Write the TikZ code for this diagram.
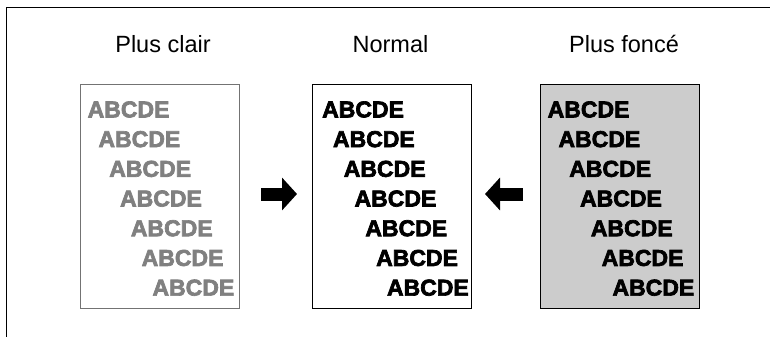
\documentclass[tikz,border=0pt]{standalone}
\usepackage{fontspec}
\setmainfont{Liberation Sans}
\newfontfamily\heavyfont{Liberation Sans}[BoldFeatures={FakeBold=3}]
\usetikzlibrary{arrows.meta,calc}
\tikzset{page/.style={draw, line width=1pt, minimum width=159, minimum height=224, inner sep=0pt},
         row/.style={anchor=west, inner sep=0pt, font=\heavyfont\bfseries\fontsize{23}{23}\selectfont},
         title/.style={anchor=base, inner sep=0pt, font=\fontsize{23.5}{24}\selectfont},
         push/.style={line width=13pt, -{Triangle[length=15pt, width=32pt]}}}

\begin{document}
\begin{tikzpicture}[x=1pt, y=-1pt]
  \useasboundingbox (0,0) rectangle (770,337);

  % ---------- frame corner ----------
  \draw[line width=1pt] (770,8) -- (6,8) -- (6,337);

  % ---------- three sheets ----------
  \node[page, draw=black!55] (clair) at (159.5,196.5) {};
  \node[page] (normal) at (392.0,196.5) {};
  \node[page, fill=black!20] (fonce) at (619.5,196.5) {};

  \node[title] (tclair)  at (163.0,52.5) {Plus clair};
  \node[title] (tnormal) at (390.5,52.5) {Normal};
  \node[title] (tfonce)  at (624.0,52.5) {Plus foncé};

  % ---------- ABCDE rows, one step right per line ----------
  \foreach \i in {0,...,6}{
    \node[row, text=black!50] (c\i) at ($(clair.west)+(8+10.8*\i,-87+29.7*\i)$) {ABCDE};
    \node[row] (n\i) at ($(normal.west)+(10+10.8*\i,-87+29.7*\i)$) {ABCDE};
    \node[row] (f\i) at ($(fonce.west)+(8+10.8*\i,-87+29.7*\i)$) {ABCDE};
  }

  % ---------- arrows towards the normal sheet ----------
  \coordinate (ra) at (261,194); \coordinate (rb) at (297,194);
  \coordinate (la) at (523,194); \coordinate (lb) at (485,194);
  \draw[push] (ra) -- (rb);
  \draw[push] (la) -- (lb);

\end{tikzpicture}
\end{document}
